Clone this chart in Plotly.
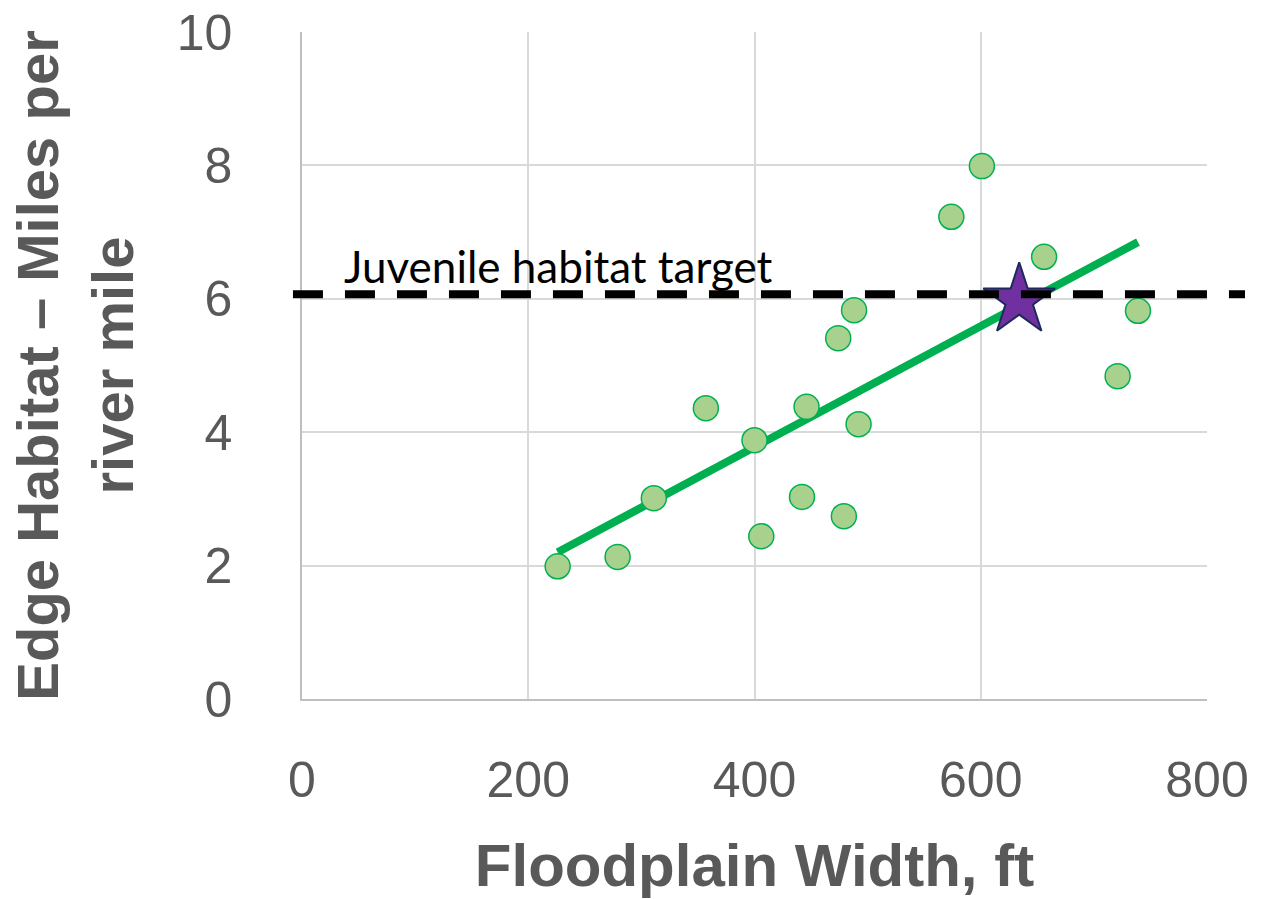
import plotly.graph_objects as go

# Data
floodplain_width = [226, 279, 311, 357, 400, 406, 442, 446, 479, 474, 488, 492, 574, 601, 656, 721, 739]
edge_habitat = [1.99, 2.13, 3.01, 4.36, 3.88, 2.44, 3.03, 4.38, 2.74, 5.41, 5.83, 4.12, 7.23, 7.99, 6.63, 4.84, 5.82]

star_x = [634]
star_y = [5.98]

trend_x = [226, 739]
trend_y = [2.20, 6.85]

target_value = 6.07
target_label = "Juvenile habitat target"

x_ticks = [0, 200, 400, 600, 800]
y_ticks = [0, 2, 4, 6, 8, 10]

GRAY = "#595959"

fig = go.Figure()

fig.add_trace(go.Scatter(
    x=trend_x, y=trend_y, mode="lines",
    line=dict(color="#00b050", width=8),
    showlegend=False, hoverinfo="skip",
))

fig.add_trace(go.Scatter(
    x=floodplain_width, y=edge_habitat, mode="markers",
    marker=dict(size=25, color="#a9d18e", line=dict(color="#00b050", width=1.5)),
    showlegend=False,
))

fig.add_trace(go.Scatter(
    x=star_x, y=star_y, mode="markers",
    marker=dict(symbol="star", size=54, color="#7030a0", line=dict(color="#1f2a5c", width=2)),
    showlegend=False,
))

fig.add_shape(
    type="line", xref="paper", yref="y",
    x0=-0.01, x1=1.042, y0=target_value, y1=target_value,
    line=dict(color="black", width=8, dash="30px,22px"),
    layer="above",
)

fig.add_annotation(
    x=35, y=6.49, xref="x", yref="y",
    text=target_label, showarrow=False,
    xanchor="left", yanchor="middle",
    font=dict(family="Lato, Open Sans, sans-serif", size=44, color="black"),
)

fig.update_layout(
    width=1264, height=899,
    paper_bgcolor="white", plot_bgcolor="white",
    margin=dict(l=302, r=57, t=32, b=200),
    font=dict(family="Liberation Sans, Arial, sans-serif", color=GRAY),
)

fig.update_xaxes(
    range=[0, 800], tickvals=x_ticks, ticktext=[str(v) for v in x_ticks],
    showgrid=True, gridcolor="#d9d9d9", gridwidth=1.5,
    showline=True, linecolor="#bfbfbf", linewidth=1.5,
    zeroline=False,
    tickfont=dict(size=50, color=GRAY),
    ticks="outside", ticklen=36, tickcolor="rgba(0,0,0,0)",
    ticklabeloverflow="allow",
    title=dict(text="<b>Floodplain Width, ft</b>", font=dict(size=60, color=GRAY), standoff=38),
    automargin=False,
)

fig.update_yaxes(
    range=[0, 10], tickvals=y_ticks, ticktext=[str(v) for v in y_ticks],
    showgrid=True, gridcolor="#d9d9d9", gridwidth=1.5,
    showline=True, linecolor="#bfbfbf", linewidth=1.5,
    zeroline=False,
    tickfont=dict(size=50, color=GRAY),
    ticks="outside", ticklen=58, tickcolor="rgba(0,0,0,0)",
    ticklabeloverflow="allow",
    title=dict(text="<b>Edge Habitat – Miles per<br>river mile</b>", font=dict(size=58, color=GRAY), standoff=24),
    automargin=False,
)

fig.write_html(
    "out.html",
    config={"displayModeBar": False},
    post_script="document.body.style.margin='0';document.body.style.overflow='hidden';",
)
